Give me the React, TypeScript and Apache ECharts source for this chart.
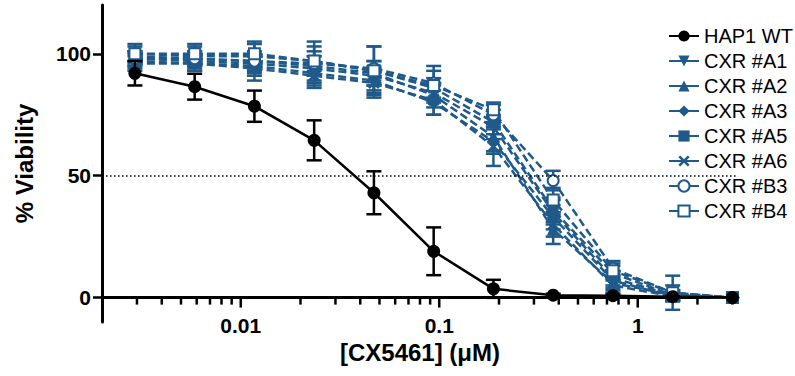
import React, { useEffect, useRef } from 'react';
import * as echarts from 'echarts';

// Concentrations of CX5461 (µM), 2-fold dilution series from 3 µM
const concentrations = [0.0029296875, 0.005859375, 0.01171875, 0.0234375, 0.046875, 0.09375, 0.1875, 0.375, 0.75, 1.5, 3];

const hap1Values = [92, 86.5, 78.5, 64.5, 43, 19, 3.6, 1, 0.8, 0.4, 0];
const hap1Errors = [5, 5.3, 6.4, 8.2, 8.8, 9.8, 3.7, 0.6, 0.5, 0.3, 0];

const a1Values = [98, 97, 96, 94, 91, 84, 70, 35, 8, 1, 0];
const a1Errors = [3, 3, 4, 5, 4, 4, 5, 5, 3, 2, 0];
const a2Values = [99, 98, 97, 95, 92, 83, 66, 28, 6, 1, 0];
const a2Errors = [2, 3, 3, 4, 5, 5, 6, 6, 3, 2, 0];
const a3Values = [97, 96, 95, 92, 89, 80, 64, 33, 7, 0.5, 0];
const a3Errors = [3, 3, 4, 4, 5, 5, 5, 5, 3, 2, 0];
const a5Values = [100, 99, 99, 97, 93, 86, 72, 36, 10, 1, 0];
const a5Errors = [3, 4, 5, 4, 4, 4, 5, 5, 3, 2, 0];
const a6Values = [96, 96, 94, 91, 88, 81, 62, 30, 5, 0.5, 0];
const a6Errors = [3, 3, 5, 5, 6, 6, 8, 5, 3, 2, 0];
const b3Values = [98, 98, 97, 96, 94, 88, 75, 48, 12, 2, 0];
const b3Errors = [3, 3, 4, 9, 9, 7, 4, 4, 3, 7, 0];
const b4Values = [100, 100, 100, 97, 93, 87, 77, 40, 11, 2, 0];
const b4Errors = [4, 4, 5, 6, 10, 6, 3, 5, 3, 3, 0];

const yTickValues = [0, 50, 100];
const xMajorTicks = [0.01, 0.1, 1];
const xMinorTicks = [
  0.003, 0.004, 0.005, 0.006, 0.007, 0.008, 0.009,
  0.02, 0.03, 0.04, 0.05, 0.06, 0.07, 0.08, 0.09,
  0.2, 0.3, 0.4, 0.5, 0.6, 0.7, 0.8, 0.9,
  2, 3,
];
const thresholdLine = 50;

const BLUE = '#1f5a8a';
const BLACK = '#000000';
const FONT = 'Liberation Sans, Arial, sans-serif';

const X_SYMBOL = 'path://M0,1.6 L1.6,0 L5,3.4 L8.4,0 L10,1.6 L6.6,5 L10,8.4 L8.4,10 L5,6.6 L1.6,10 L0,8.4 L3.4,5 Z';

const blueSeries = [
  { name: 'CXR #A1', values: a1Values, errors: a1Errors, symbol: 'triangle', rotate: 180, size: 13 },
  { name: 'CXR #A2', values: a2Values, errors: a2Errors, symbol: 'triangle', rotate: 0, size: 13 },
  { name: 'CXR #A3', values: a3Values, errors: a3Errors, symbol: 'diamond', rotate: 0, size: 13 },
  { name: 'CXR #A5', values: a5Values, errors: a5Errors, symbol: 'rect', rotate: 0, size: 11 },
  { name: 'CXR #A6', values: a6Values, errors: a6Errors, symbol: X_SYMBOL, rotate: 0, size: 12 },
  { name: 'CXR #B3', values: b3Values, errors: b3Errors, symbol: 'emptyCircle', rotate: 0, size: 11 },
  { name: 'CXR #B4', values: b4Values, errors: b4Errors, symbol: 'emptyRect', rotate: 0, size: 11 },
];

function errorSeries(values: number[], errors: number[], color: string, z: number) {
  return {
    type: 'custom',
    z,
    silent: true,
    clip: false,
    encode: { x: 0, y: 1 },
    data: concentrations.map((c, i) => [c, values[i], errors[i]]),
    renderItem: (_params: any, api: any) => {
      const x = api.value(0);
      const y = api.value(1);
      const e = api.value(2);
      if (!e) return { type: 'group', children: [] };
      const p1 = api.coord([x, y + e]);
      const p2 = api.coord([x, y - e]);
      const st = { stroke: color, lineWidth: 2.5 };
      const hw = 7.5;
      return {
        type: 'group',
        children: [
          { type: 'line', shape: { x1: p1[0], y1: p1[1], x2: p2[0], y2: p2[1] }, style: st },
          { type: 'line', shape: { x1: p1[0] - hw, y1: p1[1], x2: p1[0] + hw, y2: p1[1] }, style: st },
          { type: 'line', shape: { x1: p2[0] - hw, y1: p2[1], x2: p2[0] + hw, y2: p2[1] }, style: st },
        ],
      };
    },
  };
}

// Log-axis tick marks drawn on the x axis line (at y = 0) through the axis scale
function tickSeries(values: number[], length: number) {
  return {
    type: 'custom',
    z: 1,
    silent: true,
    clip: false,
    encode: { x: 0, y: 1 },
    data: values.map((v) => [v, 0]),
    renderItem: (_params: any, api: any) => {
      const p = api.coord([api.value(0), api.value(1)]);
      return {
        type: 'line',
        shape: { x1: p[0], y1: p[1], x2: p[0], y2: p[1] + length },
        style: { stroke: BLACK, lineWidth: 2.5 },
      };
    },
  };
}

export default function App() {
  const ref = useRef<HTMLDivElement>(null);
  useEffect(() => {
    if (!ref.current) return;
    const chart = echarts.init(ref.current, null, { renderer: 'svg' });
    const series: any[] = [tickSeries(xMajorTicks, 10), tickSeries(xMinorTicks, 7)];
    blueSeries.forEach((s) => {
      series.push(errorSeries(s.values, s.errors, BLUE, 2));
      series.push({
        type: 'line',
        name: s.name,
        z: 3,
        data: concentrations.map((c, i) => [c, s.values[i]]),
        symbol: s.symbol,
        symbolRotate: s.rotate,
        symbolSize: s.size,
        showAllSymbol: true,
        lineStyle: { color: BLUE, width: 2.5, type: [8, 4] },
        itemStyle: { color: BLUE, borderColor: BLUE, borderWidth: s.symbol.startsWith('empty') ? 2.5 : 0 },
      });
    });
    series.push(errorSeries(hap1Values, hap1Errors, BLACK, 5));
    series.push({
      type: 'line',
      name: 'HAP1 WT',
      z: 6,
      data: concentrations.map((c, i) => [c, hap1Values[i]]),
      symbol: 'circle',
      symbolSize: 13,
      lineStyle: { color: BLACK, width: 2.5 },
      itemStyle: { color: BLACK },
      markLine: {
        silent: true,
        symbol: 'none',
        label: { show: false },
        lineStyle: { color: BLACK, type: [1.5, 2.5], width: 1.5 },
        data: [{ yAxis: thresholdLine }],
      },
    });

    chart.setOption({
      animation: false,
      backgroundColor: '#ffffff',
      textStyle: { fontFamily: FONT },
      grid: { left: 102, right: 57, top: 5, bottom: 54, containLabel: false, outerBoundsMode: 'none' },
      legend: {
        data: ['HAP1 WT', ...blueSeries.map((s) => s.name)],
        orient: 'vertical',
        left: 663,
        top: 21,
        itemWidth: 30,
        itemHeight: 14,
        itemGap: 5,
        selectedMode: false,
        lineStyle: { type: 'solid' },
        textStyle: { fontFamily: FONT, fontSize: 20, color: '#000', lineHeight: 18 },
      },
      xAxis: {
        type: 'log',
        logBase: 10,
        min: 0.002,
        max: 3.2,
        position: 'bottom',
        name: '[CX5461] (μM)',
        nameLocation: 'middle',
        nameGap: 18,
        nameMoveOverlap: false,
        nameTextStyle: { fontFamily: FONT, fontWeight: 'bold', fontSize: 24, color: '#000' },
        axisLine: { onZero: true, lineStyle: { color: BLACK, width: 3 } },
        axisTick: { show: false },
        axisLabel: {
          customValues: xMajorTicks,
          fontFamily: FONT,
          fontWeight: 'bold',
          fontSize: 21,
          color: '#000',
          margin: -7,
          formatter: (v: number) => String(parseFloat(Number(v).toPrecision(3))),
        },
        splitLine: { show: false },
        minorTick: { show: false },
      },
      yAxis: {
        type: 'value',
        min: -10,
        max: 120,
        name: '% Viability',
        nameLocation: 'middle',
        nameGap: 66,
        nameMoveOverlap: false,
        nameTextStyle: { fontFamily: FONT, fontWeight: 'bold', fontSize: 24, color: '#000' },
        axisLine: { show: true, onZero: false, lineStyle: { color: BLACK, width: 3 } },
        axisTick: { show: true, customValues: yTickValues, length: 9, lineStyle: { color: BLACK, width: 2.5 } },
        axisLabel: { customValues: yTickValues, fontFamily: FONT, fontWeight: 'bold', fontSize: 21, color: '#000', margin: 11 },
        splitLine: { show: false },
      },
      series,
    });
    return () => chart.dispose();
  }, []);
  return <div ref={ref} style={{ position: 'fixed', left: 0, top: 0, width: 795, height: 376, background: '#fff' }} />;
}
